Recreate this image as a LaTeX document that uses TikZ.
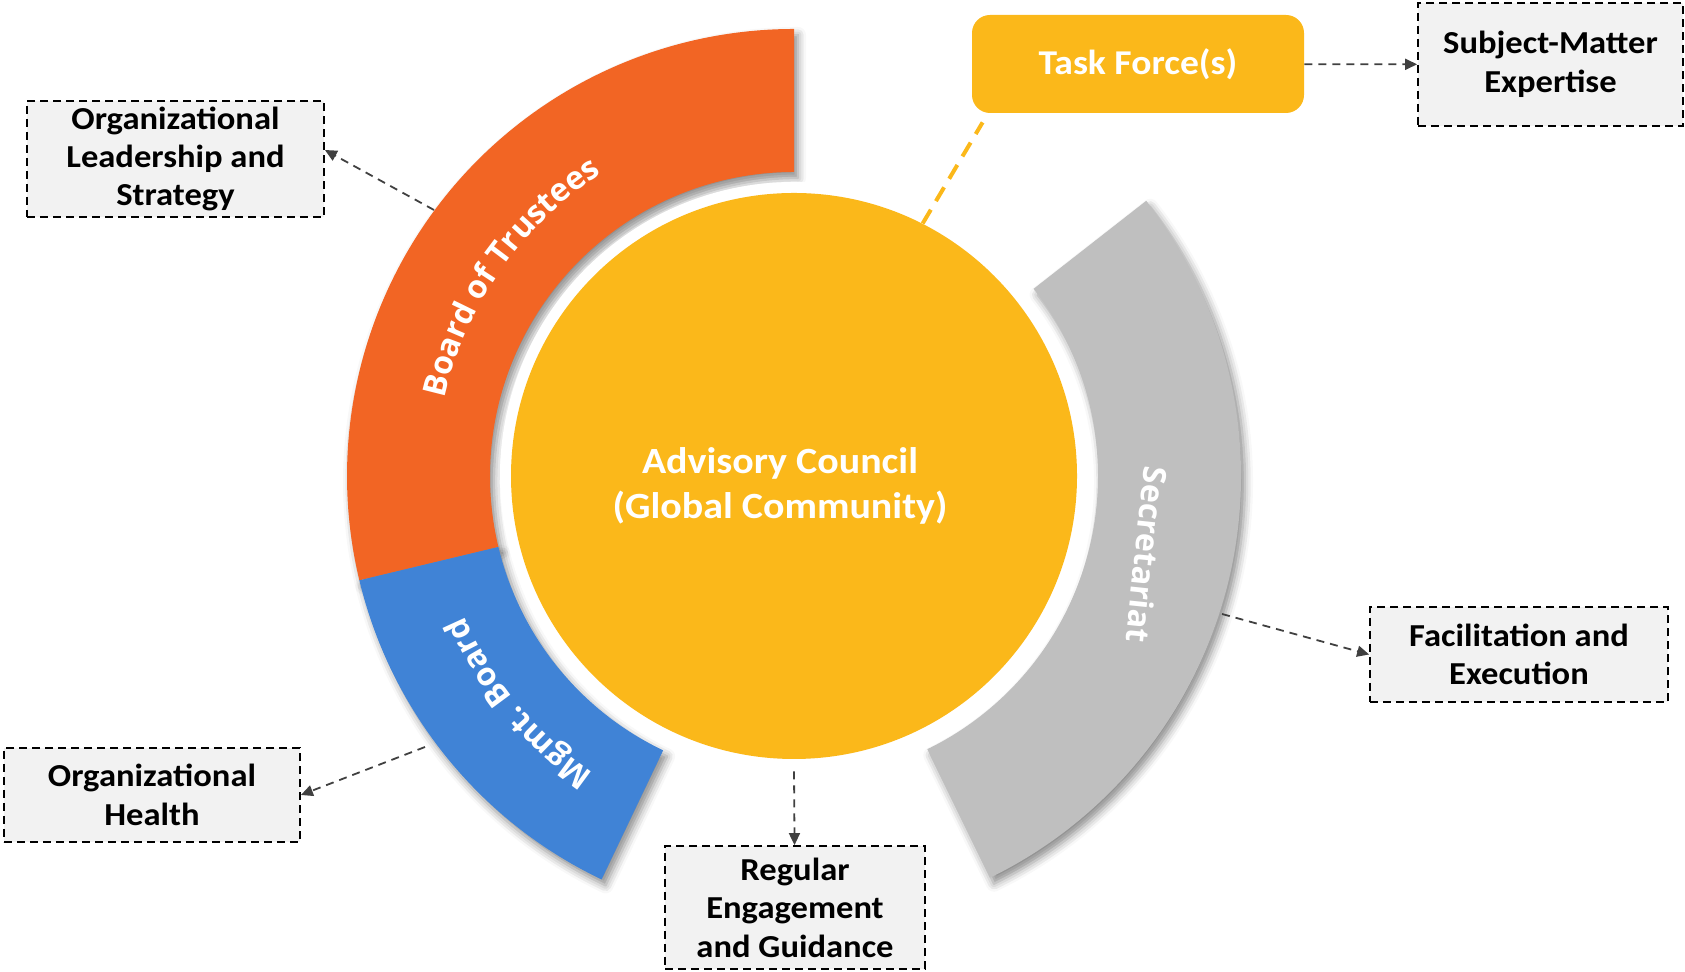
\documentclass[tikz,border=0pt]{standalone}
\usepackage{fontspec}
\setmainfont{Carlito}[FakeStretch=1.08]
\newfontfamily\bandfam{Open Sans}
\usetikzlibrary{calc}
\usetikzlibrary{arrows.meta}
\usetikzlibrary{shadows.blur}
\usetikzlibrary{decorations.text}
\definecolor{boardcol}{HTML}{F26524}
\definecolor{mgmtcol}{HTML}{4083D6}
\definecolor{seccol}{HTML}{BFBFBF}
\definecolor{accol}{HTML}{FBB81A}
\definecolor{boxcol}{HTML}{F2F2F2}
\definecolor{arrcol}{HTML}{404040}
\newcommand\boxfnt{\bfseries\fontsize{16pt}{19.2pt}\selectfont}
\newcommand\bandfnt{\bandfam\bfseries\fontsize{16pt}{18pt}\selectfont}
\tikzset{outbox/.style = {draw=black, line width=0.9pt, dash pattern=on 4pt off 2.5pt,
    fill=boxcol, align=center, font=\boxfnt, inner sep=0pt}}
\tikzset{arr/.style = {draw=arrcol, line width=0.9pt, dash pattern=on 4pt off 3pt,
    -{Triangle[length=6pt,width=5.5pt]}}}
\tikzset{bandshadow/.style = {blur shadow={shadow xshift=2pt, shadow yshift=-3pt,
    shadow blur radius=4pt, shadow opacity=45}}}

\begin{document}
\begin{tikzpicture}[x=0.5pt,y=0.5pt]
    \useasboundingbox (0,0) rectangle (1685,972);
    \coordinate (C) at (794,496);

    % the three bands round the council
    \foreach \a/\b in {90/193.5, 193.5/244.5, -64/38}
        \path[bandshadow] ($(C)+(\a:304)$) -- ($(C)+(\a:447)$) arc (\a:\b:447)
            -- ($(C)+(\b:304)$) arc (\b:\a:304) -- cycle;
    \foreach \a/\b/\c in {90/193.5/boardcol, 193.5/244.5/mgmtcol, -64/38/seccol}
        \fill[\c] ($(C)+(\a:304)$) -- ($(C)+(\a:447)$) arc (\a:\b:447)
            -- ($(C)+(\b:304)$) arc (\b:\a:304) -- cycle;

    \path[decorate, decoration={text along path, text align=center, text color=white,
        text={|\bandfnt|Board of Trustees}}] ($(C)+(167:358)$) arc (167:123:358);
    \path[decorate, decoration={text along path, text align=center, text color=white,
        text={|\bandfnt|Mgmt. Board}}] ($(C)+(238:358)$) arc (238:201:358);
    \node[text=white, font=\bandfnt, rotate=-96] (seclbl) at (1147,417) {Secretariat};

    % council
    \fill[white] (C) circle (294);
    \node[circle, fill=accol, minimum size=283pt, inner sep=0pt] (ac) at (C) {};
    \node[text=white, align=center, font=\bfseries\fontsize{18.5pt}{22.5pt}\selectfont]
        (actext) at (780,486) {Advisory Council\\(Global Community)};

    \node[fill=accol, rounded corners=9pt, minimum width=166pt, minimum height=49pt,
        text=white, font=\bfseries\fontsize{17.4pt}{20pt}\selectfont] (tf) at (1138,908) {Task Force(s)};
    \draw[accol, line width=2pt, dash pattern=on 8pt off 5pt]
        (ac.63) -- ($(tf.south west)+(5.5pt,-4.5pt)$);

    % outcome boxes
    \node[outbox, minimum width=148.5pt, minimum height=58pt] (lead) at (175.5,813)
        {Organizational\\Leadership and\\Strategy};
    \node[outbox, minimum width=132.5pt, minimum height=61.5pt] (sme) at (1550.5,907.5)
        {Subject-Matter\\Expertise};
    \node[outbox, minimum width=148pt, minimum height=47pt] (health) at (152,177)
        {Organizational\\Health};
    \node[outbox, minimum width=130pt, minimum height=61.5pt] (reg) at (795,64.5)
        {Regular\\Engagement\\and Guidance};
    \node[outbox, minimum width=149pt, minimum height=47.5pt] (facil) at (1519,317.5)
        {Facilitation and\\Execution};

    \coordinate (bt) at (434,762);
    \coordinate (mb) at (425,225);
    \coordinate (sc) at (1222,358);

    \draw[arr] (bt) -- ([yshift=4.5pt]lead.east);
    \draw[arr] (tf) -- (sme);
    \draw[arr] (mb) -- (health.east);
    \draw[arr] ([yshift=-6pt]ac.south) -- (reg);
    \draw[arr] (sc) -- (facil.west);
\end{tikzpicture}
\end{document}
